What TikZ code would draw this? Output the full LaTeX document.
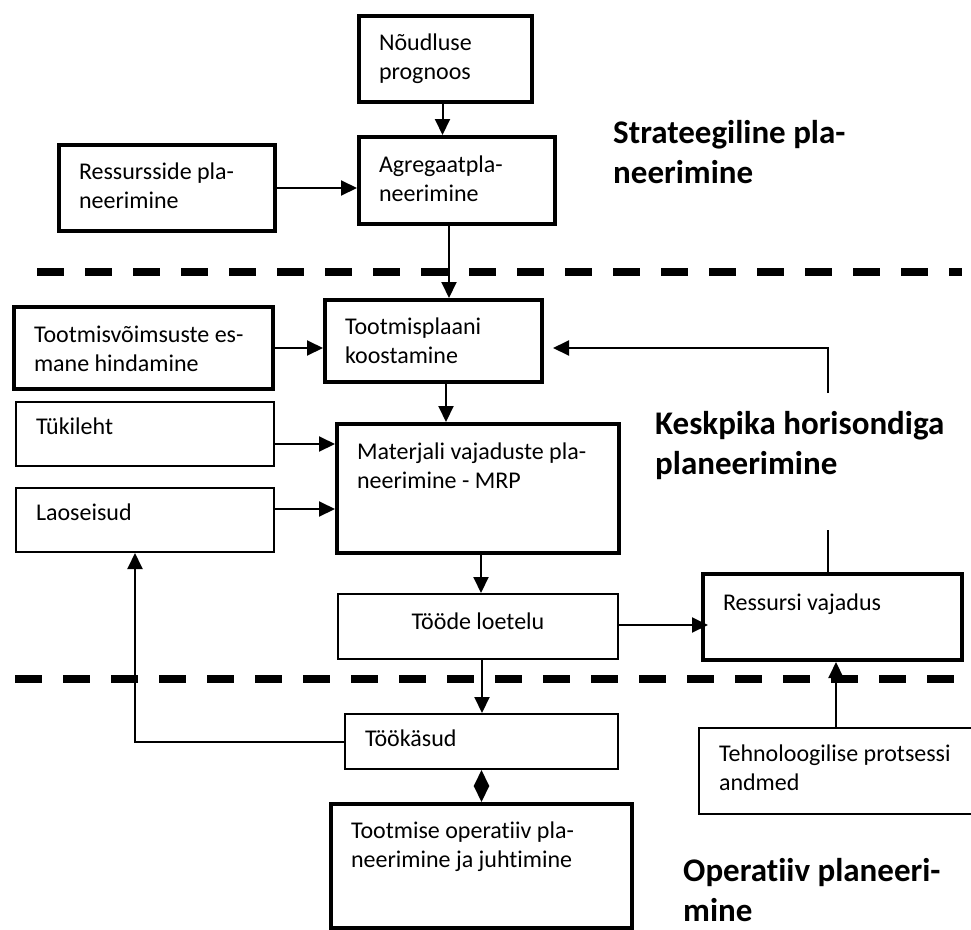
\documentclass[tikz,border=0pt]{standalone}
\usepackage{fontspec}
\setmainfont{Carlito}[Ligatures=NoCommon]
\usetikzlibrary{arrows.meta,calc}
\newcommand\bxt[4]{\parbox[c][#2pt][t]{#1pt}{\raggedright\rule{0pt}{#3pt}#4}}
\newcommand\bxc[4]{\parbox[c][#2pt][t]{#1pt}{\centering\rule{0pt}{#3pt}#4}}
\tikzset{
  box/.style={draw, anchor=north west, inner xsep=20pt, inner ysep=0pt, font=\fontsize{24}{29}\selectfont, line width=2pt},
  boxthick/.style={box, line width=4pt},
  arr/.style={line width=2pt, -{Triangle[length=16pt,width=15pt]}},
  ln/.style={line width=2pt},
  divider/.style={line width=7.5pt, dash pattern=on 27pt off 21pt},
  title/.style={anchor=base west, inner sep=0pt, font=\fontsize{33}{40}\selectfont\bfseries},
}
\begin{document}
\begin{tikzpicture}[x=1pt,y=-1pt]
\useasboundingbox (0,0) rectangle (971,929);
\clip (0,0) rectangle (971,929);
\fill[white] (0,0) rectangle (971,929);

% dividers
\coordinate (d1a) at (37,272);
\coordinate (d1b) at (962,272);
\coordinate (d2a) at (15,679);
\coordinate (d2b) at (990,679);
\draw[divider] (d1a) -- (d1b);
\draw[divider] (d2a) -- (d2b);

% boxes
\node[boxthick] (noud) at (357,14) {\bxt{133}{86}{34}{Nõudluse\\prognoos}};
\node[boxthick] (agreg) at (357,135) {\bxt{156}{87}{35}{Agregaatpla-\\neerimine}};
\node[boxthick] (ress) at (57,143) {\bxt{176}{86}{34}{Ressursside pla-\\neerimine}};
\node[boxthick] (tplaan) at (323,298) {\bxt{177}{82}{34}{Tootmisplaani\\koostamine}};
\node[boxthick] (tvoim) at (12,305) {\bxt{219}{82}{35}{Tootmisvõimsuste es-\\mane hindamine}};
\node[box] (tuki) at (15,401) {\bxt{218}{64}{32}{Tükileht}};
\node[box] (lao) at (15,487) {\bxt{218}{64}{32}{Laoseisud}};
\node[boxthick] (mrp) at (335,422) {\bxt{242}{129}{35}{Materjali vajaduste pla-\\neerimine - MRP}};
\node[box] (toode) at (337,593) {\bxc{240}{65}{35}{Tööde loetelu}};
\node[box] (tookasud) at (344,713) {\bxt{233}{55}{32}{Töökäsud}};
\node[boxthick] (tootmise) at (329,802) {\bxt{261}{124}{34}{Tootmise operatiiv pla-\\neerimine ja juhtimine}};
\node[boxthick] (ressursi) at (701,572) {\bxt{219}{86}{36}{Ressursi vajadus}};
\node[box] (tehno) at (698,727) {\bxt{262}{86}{33}{Tehnoloogilise protsessi\\andmed}};

% titles
\node[title] (t1) at (613,143) {\parbox[t]{350pt}{Strateegiline pla-\\neerimine}};
\node[title] (t2) at (655,434) {\parbox[t]{350pt}{Keskpika horisondiga\\planeerimine}};
\node[title] (t3) at (683,881) {\parbox[t]{350pt}{Operatiiv planeeri-\\mine}};

% connectors
\draw[arr] ([xshift=-3pt]noud.south) -- ([xshift=-3pt]noud.south |- agreg.north);
\draw[arr] (ress.east) -- (ress.east -| agreg.west);
\draw[arr] ([xshift=-8pt]agreg.south) -- ([xshift=-8pt]agreg.south |- tplaan.north);
\draw[arr] (tvoim.east) -- (tvoim.east -| tplaan.west);
\draw[arr] ([xshift=12.5pt]tplaan.south) -- ([xshift=12.5pt]tplaan.south |- mrp.north);
\draw[arr] ([yshift=-10pt]tuki.east) -- ([yshift=-10pt]tuki.east -| mrp.west);
\draw[arr] ([yshift=11pt]lao.east) -- ([yshift=11pt]lao.east -| mrp.west);
\draw[arr] ([xshift=3pt]mrp.south) -- ([xshift=3pt]mrp.south |- toode.north);
\draw[arr] ([xshift=4pt]toode.south) -- ([xshift=4pt]toode.south |- tookasud.north);
\draw[ln, {Triangle[length=16pt,width=15pt]}-{Triangle[length=16pt,width=15pt]}] (tootmise.north |- tookasud.south) -- (tootmise.north);
\draw[arr] (tookasud.west) -| ([xshift=-10pt]lao.south);
\draw[arr, shorten >=-7pt] ([yshift=1.5pt]toode.east) -- ([yshift=1.5pt]toode.east -| ressursi.west);
\draw[arr] ([xshift=3.5pt]ressursi.south |- tehno.north) -- ([xshift=3.5pt]ressursi.south);
\coordinate (fbtop) at (828,393);
\coordinate (fbbot) at (828,530);
\draw[ln] (fbbot |- ressursi.north) -- (fbbot);
\draw[arr, shorten >=9pt] (fbtop) |- ([yshift=-7pt]tplaan.east);
\end{tikzpicture}
\end{document}
